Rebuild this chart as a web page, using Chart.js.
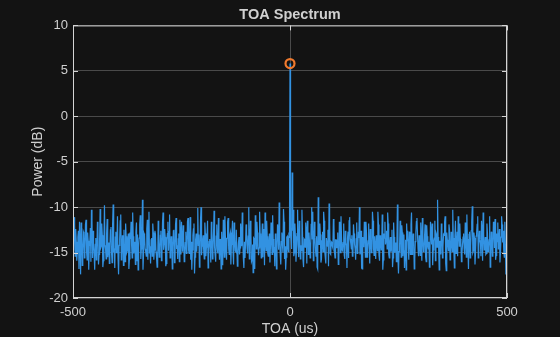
<!DOCTYPE html>
<html>
<head>
<meta charset="utf-8">
<script src="https://cdn.jsdelivr.net/npm/chart.js@4.4.1/dist/chart.umd.min.js"></script>
<style>
  html, body { margin: 0; padding: 0; background: #131313; }
  #toaChart { display: block; }
</style>
</head>
<body>
<canvas id="toaChart" width="560" height="337"></canvas>
<script>
// TOA axis: samples every 1.25 us from -500 to 500, kept as two interleaved lists
const toaStart = -500;
const toaStep = 2.5;
const toaOddStart = -498.75;

// power (dB) at -500, -497.5, ... 500
const powerDb = [
  // -500 .. -452.5
  -13.2, -11.1, -15.4, -13.8, -14.9, -12.6, -11.6, -17.4, -13.5, -15.1, -12.9, -14.6, -11.4, -15.8, -13.7, -14.2, -12.3, -10.3, -15.6, -14.1,
  // -450 .. -402.5
  -16.9, -13.4, -14.8, -12.7, -15.2, -10.2, -14.3, -13.1, -15.9, -9.8, -14.6, -12.8, -15.5, -13.9, -14.4, -12.2, -16.1, -9.7, -14.7, -13.3,
  // -400 .. -352.5
  -15.0, -11.0, -17.4, -13.6, -10.8, -15.3, -14.0, -12.5, -16.0, -13.2, -14.8, -12.9, -15.7, -13.5, -14.2, -10.6, -15.1, -13.8, -12.7, -15.9,
  // -350 .. -302.5
  -16.9, -13.4, -10.9, -14.6, -9.2, -15.2, -13.1, -14.9, -12.4, -15.8, -10.5, -14.3, -13.6, -15.4, -12.8, -14.7, -13.0, -15.6, -16.5, -13.9,
  // -300 .. -252.5
  -14.5, -12.6, -15.3, -10.6, -14.1, -13.3, -16.2, -12.9, -14.8, -10.8, -15.0, -13.7, -14.4, -12.5, -15.9, -11.2, -14.2, -13.5, -16.0, -12.8,
  // -250 .. -202.5
  -11.6, -14.9, -13.2, -15.5, -12.7, -14.6, -11.2, -15.1, -11.1, -13.8, -14.7, -12.4, -17.3, -13.6, -14.9, -10.1, -13.0, -15.4, -10.0, -14.3,
  // -200 .. -152.5
  -13.1, -15.7, -12.9, -14.4, -11.5, -15.0, -13.5, -16.1, -12.6, -14.8, -10.4, -15.3, -13.2, -14.6, -11.2, -15.8, -13.9, -12.7, -16.4, -14.0,
  // -150 .. -102.5
  -11.0, -14.7, -13.4, -11.2, -15.2, -12.8, -14.1, -11.5, -16.3, -13.6, -14.9, -12.5, -15.4, -13.3, -14.5, -12.9, -10.6, -15.6, -13.8, -14.2,
  // -100 .. -52.5
  -12.7, -15.1, -10.0, -14.4, -13.1, -15.8, -17.2, -13.5, -10.9, -14.6, -12.8, -15.3, -10.5, -14.0, -13.6, -15.5, -12.4, -10.6, -14.8, -13.2,
  // -50 .. -2.5
  -15.4, -12.9, -14.3, -13.7, -10.9, -15.0, -16.5, -13.4, -14.6, -12.6, -9.5, -15.2, -13.8, -14.1, -10.2, -15.7, -16.9, -13.3, -14.5, -12.8,
  // 0 (peak)
  5.8,
  // 2.5 .. 47.5
  -13.6, -6.2, -10.3, -15.0, -13.2, -14.7, -10.3, -15.5, -12.9, -14.2, -10.3, -15.8, -13.5, -14.4, -12.6, -11.5, -15.2, -13.9, -14.8,
  // 50 .. 97.5
  -10.0, -10.5, -14.6, -13.3, -15.4, -16.6, -8.9, -14.1, -13.0, -15.7, -12.7, -10.5, -14.9, -16.2, -13.4, -12.5, -9.6, -15.1, -13.8, -14.3,
  // 100 .. 147.5
  -11.3, -15.0, -13.6, -14.5, -12.8, -15.9, -13.2, -11.0, -14.7, -13.9, -15.3, -12.6, -14.2, -13.4, -15.6, -11.1, -14.0, -13.1, -15.2, -12.9,
  // 150 .. 197.5
  -14.6, -13.5, -15.1, -12.7, -10.0, -14.8, -16.7, -13.3, -14.4, -12.9, -11.6, -15.5, -13.7, -14.2, -12.4, -15.0, -10.5, -14.6, -13.2, -15.7,
  // 200 .. 247.5
  -13.9, -10.5, -15.3, -13.1, -14.7, -10.8, -15.8, -13.4, -14.1, -12.6, -10.6, -15.2, -13.8, -14.9, -12.5, -15.6, -13.3, -14.4, -16.0, -9.7,
  // 250 .. 297.5
  -17.3, -14.2, -13.5, -12.0, -15.4, -13.0, -14.8, -16.9, -13.7, -14.5, -12.7, -15.2, -10.6, -14.0, -13.4, -15.7, -12.8, -11.2, -14.6, -13.1,
  // 300 .. 347.5
  -15.3, -13.6, -11.2, -14.9, -13.2, -15.5, -12.0, -14.3, -13.8, -15.0, -12.6, -11.8, -14.7, -13.4, -15.9, -13.0, -9.2, -14.5, -13.7, -15.2,
  // 350 .. 397.5
  -12.8, -14.4, -13.1, -11.0, -17.0, -13.6, -14.8, -12.5, -15.3, -13.9, -10.3, -14.6, -13.2, -15.1, -12.7, -11.0, -14.3, -13.5, -16.0, -14.1,
  // 400 .. 447.5
  -12.9, -15.2, -13.7, -10.8, -14.5, -13.0, -15.6, -12.6, -9.9, -14.8, -13.4, -15.0, -12.8, -11.0, -14.2, -13.6, -15.4, -12.5, -10.6, -14.7,
  // 450 .. 500
  -13.3, -15.1, -12.9, -14.4, -11.0, -15.7, -13.5, -14.0, -12.7, -11.3, -15.3, -13.8, -14.6, -12.4, -15.0, -11.0, -13.9, -14.8, -11.6, -17.4, -15.0
];

// power (dB) at the in-between samples -498.75, -496.25, ... 498.75
const powerDbOdd = [
  -14.8, -12.0, -12.4, -15.9, -13.3, -16.8, -14.0, -11.7, -16.4, -12.7, -15.6, -11.9, -14.9, -12.8, -16.9, -13.9, -16.0, -11.4, -12.6, -15.2,
  -14.1, -15.8, -11.6, -16.3, -13.7, -14.5, -11.8, -16.6, -13.9, -14.2, -15.7, -11.3, -14.6, -16.2, -12.5, -15.0, -11.9, -14.8, -16.7, -12.7,
  -13.8, -15.5, -14.2, -11.5, -15.8, -13.1, -16.4, -14.7, -11.8, -15.0, -13.5, -16.8, -12.8, -11.6, -15.6, -13.2, -14.1, -16.3, -11.7, -13.0,
  -14.4, -11.9, -15.7, -13.3, -16.9, -12.9, -14.6, -15.4, -11.4, -12.7, -15.1, -16.2, -13.4, -11.8, -15.8, -12.6, -14.9, -16.6, -11.5, -15.5,
  -13.1, -15.9, -11.7, -14.7, -12.4, -16.5, -13.6, -11.6, -12.7, -15.6, -13.2, -16.8, -12.6, -16.1, -11.9, -14.6, -15.7, -12.9, -11.4, -15.2,
  -13.5, -12.0, -16.0, -13.9, -15.1, -11.6, -14.7, -13.3, -15.8, -16.9, -13.1, -11.8, -15.5, -12.9, -13.7, -14.2, -16.6, -11.5, -15.3, -13.6,
  -14.9, -11.7, -15.4, -13.2, -16.7, -13.8, -14.5, -11.6, -15.7, -13.0, -14.4, -16.0, -11.9, -15.1, -14.1, -13.5, -16.8, -14.6, -11.4, -15.5,
  -13.4, -15.8, -11.6, -14.6, -13.1, -16.3, -12.9, -15.0, -11.7, -14.8, -12.5, -16.5, -13.9, -15.2, -11.8, -14.3, -13.5, -16.7, -15.6, -11.9,
  -14.6, -13.2, -15.7, -11.5, -16.0, -14.1, -13.4, -16.8, -12.7, -11.6, -13.9, -14.5, -12.9, -15.6, -11.8, -13.3, -16.4, -13.7, -11.5, -15.1,
  -13.8, -16.1, -11.7, -15.2, -13.5, -14.4, -12.9, -16.8, -11.9, -14.7, -13.6, -16.3, -12.8, -15.0, -11.6, -14.3, -15.5, -13.2, -14.9, -13.4,
  -13.0, -14.6, -12.6, -15.4, -11.8, -16.0, -12.9, -14.2, -11.5, -15.7, -14.8, -12.7, -16.6, -13.6, -11.7, -16.2, -13.1, -12.8, -15.6, -11.9,
  -13.5, -15.9, -11.6, -14.7, -13.2, -16.8, -14.1, -11.8, -16.1, -13.7, -14.9, -11.5, -15.5, -13.4, -14.3, -16.5, -11.7, -15.2, -13.9, -14.5,
  -11.9, -15.6, -13.6, -14.2, -16.3, -11.6, -15.0, -13.3, -14.8, -11.8, -15.7, -13.9, -16.7, -12.7, -11.5, -13.5, -14.6, -15.4, -11.9, -14.1,
  -15.8, -11.7, -14.5, -13.4, -15.2, -12.6, -16.8, -13.8, -11.6, -15.5, -12.8, -14.7, -11.8, -16.2, -13.6, -14.9, -11.5, -15.3, -14.3, -13.1,
  -14.8, -11.9, -15.9, -13.7, -14.2, -16.9, -12.9, -11.6, -13.5, -14.6, -11.8, -15.6, -13.3, -14.4, -16.6, -11.7, -15.0, -13.9, -14.1, -15.7,
  -14.9, -11.5, -15.5, -12.8, -14.3, -16.7, -13.6, -11.8, -12.6, -15.8, -13.4, -11.9, -15.2, -12.9, -16.8, -13.8, -11.6, -13.0, -15.4, -14.2,
  -11.7, -15.9, -13.5, -14.8, -11.9, -16.0, -13.2, -14.6, -16.6, -11.6, -14.1, -16.4, -13.7, -11.5, -12.8, -14.4, -13.3, -16.9, -14.0, -11.8,
  -15.6, -13.0, -11.6, -16.2, -12.8, -14.2, -11.9, -15.8, -12.7, -14.9, -13.4, -16.7, -11.5, -14.5, -15.4, -12.6, -11.8, -13.9, -15.1, -13.3,
  -14.6, -11.7, -15.5, -13.5, -16.8, -12.7, -14.3, -11.6, -15.0, -12.8, -16.3, -13.2, -11.9, -15.6, -12.6, -14.0, -11.5, -15.9, -13.0, -14.4,
  -15.2, -11.8, -14.9, -13.6, -16.6, -12.7, -15.4, -11.6, -14.5, -15.8, -12.9, -11.7, -13.7, -16.1, -13.3, -11.9, -12.6, -15.5, -14.1, -16.9
];

// detected peak
const peakToa = [0];
const peakDb = [5.8];

const xTicks = [-500, 0, 500];
const yTicks = [10, 5, 0, -5, -10, -15, -20];

const axisColor = "#d4d4d4";
const gridColor = "#4a4a4a";
const textColor = "#d0d0d0";
const fontFamily = "'Liberation Sans', Arial, sans-serif";

// merge the two lists into one series ordered by TOA
const spectrumPoints = [];
powerDb.forEach((v, i) => {
  spectrumPoints.push({ x: toaStart + i * toaStep, y: v });
  if (i < powerDbOdd.length) {
    spectrumPoints.push({ x: toaOddStart + i * toaStep, y: powerDbOdd[i] });
  }
});
const peakPoints = peakToa.map((t, i) => ({ x: t, y: peakDb[i] }));

// MATLAB-style box with inward ticks
const boxPlugin = {
  id: "box",
  afterDraw(chart) {
    const { ctx, chartArea: a, scales } = chart;
    ctx.save();
    ctx.strokeStyle = axisColor;
    ctx.lineWidth = 1;
    ctx.strokeRect(a.left + 0.5, a.top + 0.5, a.right - a.left - 1, a.bottom - a.top - 1);
    ctx.beginPath();
    xTicks.forEach((t) => {
      const x = Math.round(scales.x.getPixelForValue(t)) + 0.5;
      ctx.moveTo(x, a.bottom); ctx.lineTo(x, a.bottom - 5);
      ctx.moveTo(x, a.top); ctx.lineTo(x, a.top + 5);
    });
    yTicks.forEach((t) => {
      const y = Math.round(scales.y.getPixelForValue(t)) + 0.5;
      ctx.moveTo(a.left, y); ctx.lineTo(a.left + 5, y);
      ctx.moveTo(a.right, y); ctx.lineTo(a.right - 5, y);
    });
    ctx.stroke();
    ctx.restore();
  },
};

new Chart(document.getElementById("toaChart"), {
  type: "line",
  data: {
    datasets: [
      {
        label: "spectrum",
        data: spectrumPoints,
        borderColor: "#3292e2",
        borderWidth: 1.2,
        pointRadius: 0,
        tension: 0,
        order: 2,
      },
      {
        label: "peak",
        type: "scatter",
        data: peakPoints,
        borderColor: "#f07a2e",
        backgroundColor: "rgba(0,0,0,0)",
        borderWidth: 2.2,
        pointRadius: 4.5,
        order: 1,
      },
    ],
  },
  options: {
    responsive: false,
    animation: false,
    devicePixelRatio: 1,
    layout: { padding: { left: 0, right: 53, top: 0, bottom: 0 } },
    plugins: {
      legend: { display: false },
      tooltip: { enabled: false },
      title: {
        display: true,
        fullSize: false,
        text: "TOA Spectrum",
        color: textColor,
        font: { family: fontFamily, size: 14.5, weight: "bold" },
        padding: { top: 6, bottom: 2 },
      },
    },
    scales: {
      x: {
        type: "linear",
        min: -500,
        max: 500,
        afterBuildTicks(scale) { scale.ticks = xTicks.map((v) => ({ value: v })); },
        afterFit(scale) { scale.height = 39; },
        grid: { color: gridColor, drawTicks: false },
        border: { display: false },
        ticks: { color: textColor, font: { family: fontFamily, size: 13 }, padding: 7, maxRotation: 0 },
        title: { display: true, text: "TOA (us)", color: textColor, font: { family: fontFamily, size: 14 }, padding: { top: 0, bottom: -1 } },
      },
      y: {
        min: -20,
        max: 10,
        afterBuildTicks(scale) { scale.ticks = yTicks.map((v) => ({ value: v })); },
        afterFit(scale) { scale.width = 73; },
        grid: { color: gridColor, drawTicks: false },
        border: { display: false },
        ticks: { color: textColor, font: { family: fontFamily, size: 13 }, padding: 5 },
        title: { display: true, text: "Power (dB)", color: textColor, font: { family: fontFamily, size: 14 }, padding: { top: 30, bottom: 0 } },
      },
    },
  },
  plugins: [boxPlugin],
});
</script>
</body>
</html>
